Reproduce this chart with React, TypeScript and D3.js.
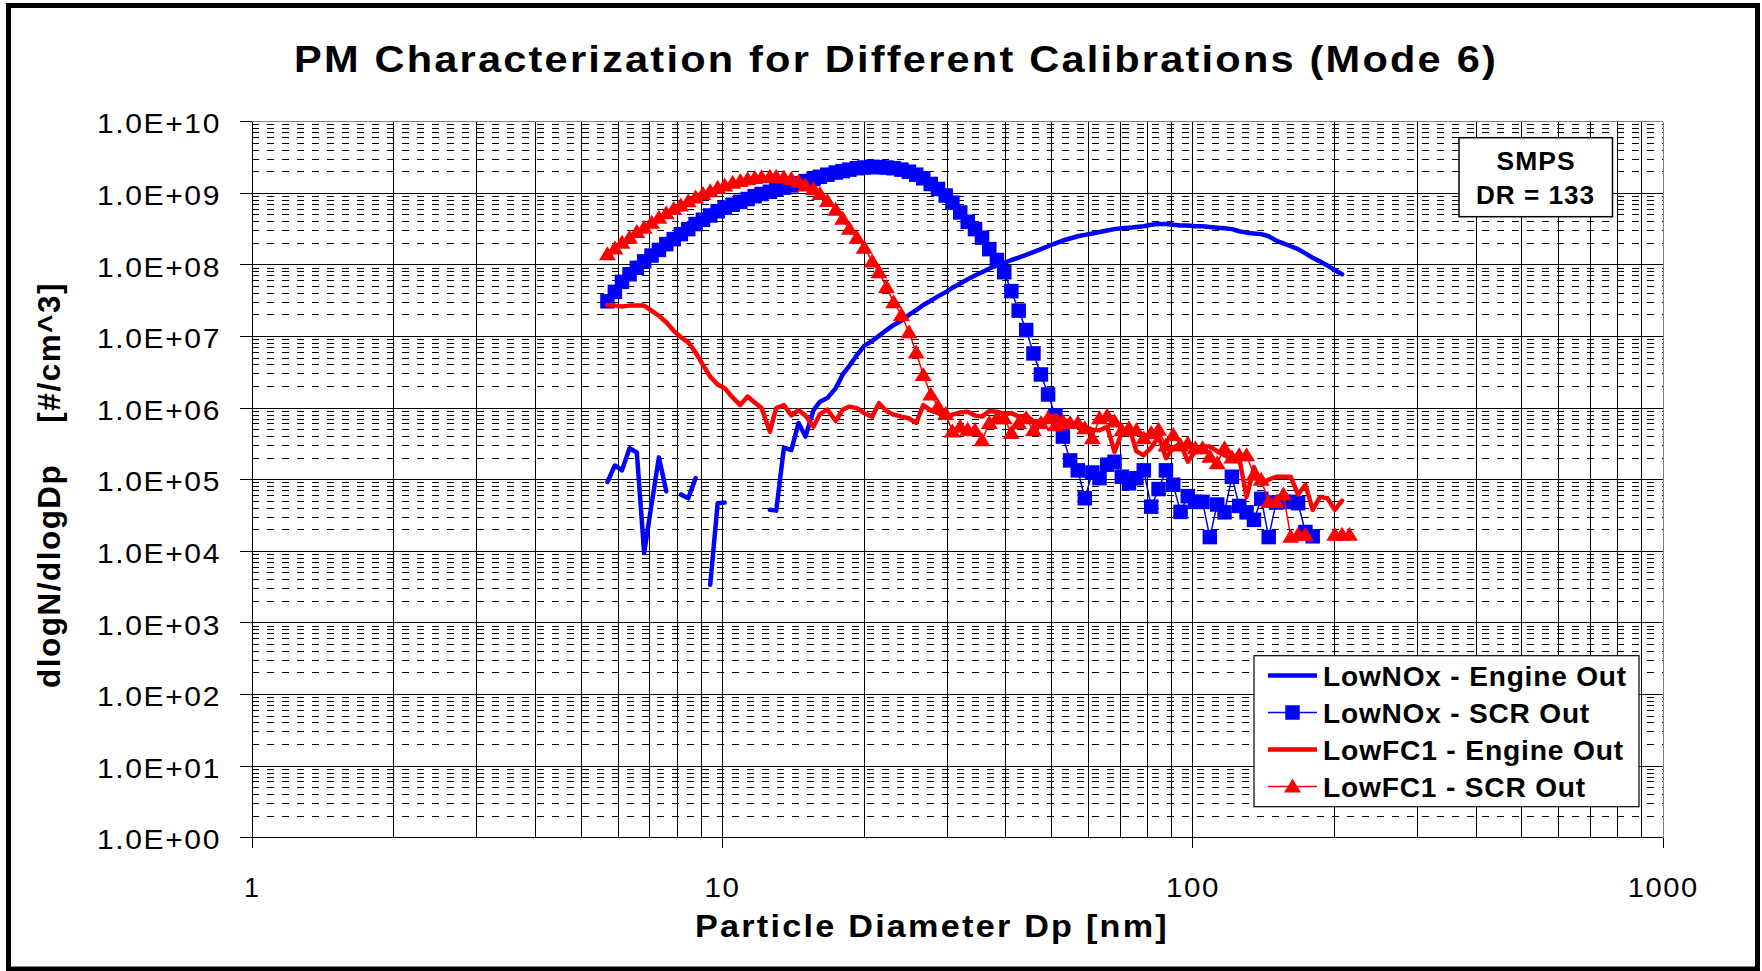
import React from 'react';
import * as d3 from 'd3';

// ---------- DATA ----------
const diameters = [
  5.69, 5.90, 6.11, 6.34, 6.57, 6.81, 7.06, 7.32, 7.59, 7.87,
  8.15, 8.45, 8.76, 9.08, 9.41, 9.76, 10.1, 10.5, 10.9, 11.3,
  11.7, 12.1, 12.6, 13.0, 13.5, 14.0, 14.5, 15.0, 15.6, 16.1,
  16.7, 17.4, 18.0, 18.6, 19.3, 20.0, 20.8, 21.5, 22.3, 23.1,
  24.0, 24.9, 25.8, 26.7, 27.7, 28.7, 29.8, 30.8, 32.0, 33.2,
  34.4, 35.6, 36.9, 38.3, 39.7, 41.1, 42.6, 44.2, 45.8, 47.5,
  49.2, 51.0, 52.9, 54.8, 56.9, 58.9, 61.1, 63.3, 65.7, 68.1,
  70.6, 73.1, 75.8, 78.6, 81.5, 84.5, 87.6, 90.8, 94.1, 97.5,
  101.1, 104.8, 108.6, 112.6, 116.7, 121.0, 125.4, 130.0, 134.8, 139.7,
  144.9, 150.2, 155.7, 161.4, 167.3, 173.4, 179.7, 186.3, 193.1, 200.2,
  207.5, 215.1,
];

const lowNOxEngineOut: (number | null)[] = [
  9.3e4, 1.58e5, 1.35e5, 2.75e5, 2.4e5, 9.5e3, 4.5e4, 2.05e5, 6.9e4, null,
  6.2e4, 5.5e4, 1.05e5, null, 3.4e3, 4.7e4, 4.8e4, null, null, null,
  null, null, 3.8e4, 3.7e4, 2.8e5, 2.6e5, 6.2e5, 4.0e5, 9.3e5, 1.23e6,
  1.38e6, 1.9e6, 2.95e6, 3.9e6, 5.5e6, 7.4e6, 8.7e6, 1.02e7, 1.23e7, 1.45e7,
  1.66e7, 2.0e7, 2.34e7, 2.75e7, 3.16e7, 3.63e7, 4.17e7, 4.79e7, 5.5e7, 6.3e7,
  7.1e7, 7.9e7, 8.9e7, 9.8e7, 1.07e8, 1.17e8, 1.26e8, 1.38e8, 1.51e8, 1.66e8,
  1.82e8, 2.0e8, 2.19e8, 2.34e8, 2.51e8, 2.63e8, 2.75e8, 2.88e8, 3.02e8, 3.16e8,
  3.24e8, 3.31e8, 3.39e8, 3.47e8, 3.63e8, 3.72e8, 3.72e8, 3.63e8, 3.55e8, 3.55e8,
  3.47e8, 3.47e8, 3.39e8, 3.31e8, 3.24e8, 3.16e8, 2.95e8, 2.82e8, 2.75e8, 2.69e8,
  2.51e8, 2.19e8, 2.0e8, 1.82e8, 1.66e8, 1.45e8, 1.26e8, 1.12e8, 9.8e7, 8.5e7,
  7.4e7,
];

const lowNOxSCROut: (number | null)[] = [
  3.1e7, 4.2e7, 5.8e7, 7.4e7, 9.1e7, 1.12e8, 1.35e8, 1.62e8, 1.95e8, 2.29e8,
  2.69e8, 3.16e8, 3.72e8, 4.27e8, 4.9e8, 5.62e8, 6.31e8, 6.92e8, 7.59e8, 8.32e8,
  9.12e8, 9.77e8, 1.05e9, 1.12e9, 1.2e9, 1.29e9, 1.38e9, 1.48e9, 1.58e9, 1.7e9,
  1.82e9, 1.95e9, 2.04e9, 2.14e9, 2.24e9, 2.29e9, 2.34e9, 2.32e9, 2.29e9, 2.24e9,
  2.14e9, 2.0e9, 1.82e9, 1.62e9, 1.35e9, 1.15e9, 9.3e8, 7.4e8, 5.4e8, 4.0e8,
  3.16e8, 2.4e8, 1.66e8, 1.17e8, 7.9e7, 4.3e7, 2.3e7, 1.23e7, 5.8e6, 2.95e6,
  1.55e6, 7.9e5, 4.0e5, 1.86e5, 1.35e5, 5.5e4, 1.26e5, 1.05e5, 1.62e5, 1.78e5,
  1.1e5, 8.9e4, 1.05e5, 1.35e5, 4.2e4, 7.4e4, 1.35e5, 8.5e4, 3.55e4, 5.9e4,
  4.9e4, 4.9e4, 1.58e4, 4.5e4, 3.5e4, 1.1e5, 4.3e4, 3.5e4, 2.75e4, 5.4e4,
  1.58e4, 4.8e4, 4.9e4, 4.9e4, 4.7e4, 1.86e4, 1.62e4,
];

const lowFC1EngineOut: (number | null)[] = [
  2.75e7, 2.7e7, 2.63e7, 2.7e7, 2.7e7, 2.7e7, 2.3e7, 1.95e7, 1.58e7, 1.2e7,
  9.8e6, 8.3e6, 6.0e6, 4.0e6, 2.75e6, 2.14e6, 1.9e6, 1.41e6, 1.1e6, 1.45e6,
  1.2e6, 1.0e6, 4.7e5, 1.0e6, 1.1e6, 7.9e5, 9.3e5, 7.9e5, 5.5e5, 8.3e5,
  9.5e5, 6.6e5, 9.5e5, 1.05e6, 1.0e6, 8.5e5, 7.6e5, 1.17e6, 9.1e5, 8.1e5,
  7.6e5, 7.2e5, 6.2e5, 1.1e6, 9.3e5, 8.5e5, 7.6e5, 8.1e5, 8.7e5, 8.9e5,
  7.9e5, 7.6e5, 9.1e5, 8.9e5, 8.3e5, 8.5e5, 7.6e5, 7.9e5, 6.6e5, 6.5e5,
  7.1e5, 7.9e5, 6.3e5, 6.2e5, 5.75e5, 5.5e5, 5.0e5, 4.9e5, 5.5e5, 2.45e5,
  4.5e5, 5.5e5, 2.5e5, 2.2e5, 2.8e5, 4.0e5, 2.0e5, 2.8e5, 3.2e5, 1.78e5,
  2.5e5, 2.9e5, 2.9e5, 2.5e5, 2.2e5, 1.9e5, 2.0e5, 5.75e4, 1.5e5, 8.9e4,
  1.0e5, 1.1e5, 1.1e5, 1.1e5, 6.2e4, 8.5e4, 3.8e4, 5.75e4, 5.5e4, 3.8e4,
  5.1e4,
];

const lowFC1SCROut: (number | null)[] = [
  1.41e8, 1.7e8, 2.04e8, 2.4e8, 2.88e8, 3.31e8, 3.89e8, 4.57e8, 5.25e8, 6.03e8,
  6.76e8, 7.76e8, 8.71e8, 9.77e8, 1.07e9, 1.2e9, 1.29e9, 1.4e9, 1.48e9, 1.57e9,
  1.64e9, 1.68e9, 1.7e9, 1.7e9, 1.66e9, 1.58e9, 1.45e9, 1.29e9, 1.15e9, 9.8e8,
  7.8e8, 5.9e8, 4.4e8, 3.2e8, 2.4e8, 1.74e8, 1.12e8, 7.9e7, 4.9e7, 3.0e7,
  2.0e7, 1.15e7, 6.0e6, 2.9e6, 1.55e6, 1.05e6, 8.3e5, 4.7e5, 5.5e5, 5.0e5,
  4.9e5, 3.55e5, 6.2e5, 7.2e5, 7.2e5, 4.5e5, 6.2e5, 7.2e5, 4.9e5, 6.2e5,
  7.2e5, 5.75e5, 6.5e5, 6.2e5, 6.2e5, 5.25e5, 3.8e5, 7.2e5, 7.8e5, 6.5e5,
  4.9e5, 5.25e5, 4.9e5, 3.8e5, 4.5e5, 5.0e5, 3.0e5, 4.2e5, 3.0e5, 3.2e5,
  2.75e5, 2.75e5, 2.1e5, 1.7e5, 2.75e5, 2.05e5, 2.2e5, 2.2e5, 1.17e5, 1.0e5,
  4.9e4, 4.9e4, 6.2e4, 1.6e4, 1.7e4, 1.7e4, null, null, null, 1.7e4,
  1.7e4, 1.7e4,
];

const yTickValues = [1, 1e1, 1e2, 1e3, 1e4, 1e5, 1e6, 1e7, 1e8, 1e9, 1e10];
const yTickLabels = ['1.0E+00', '1.0E+01', '1.0E+02', '1.0E+03', '1.0E+04', '1.0E+05', '1.0E+06', '1.0E+07', '1.0E+08', '1.0E+09', '1.0E+10'];
const xTickValues = [1, 10, 100, 1000];
const xTickLabels = ['1', '10', '100', '1000'];
const xTickLabelWidths = [16, 36, 54, 71];

const seriesNames = ['LowNOx - Engine Out', 'LowNOx - SCR Out', 'LowFC1 - Engine Out', 'LowFC1 - SCR Out'];
const seriesColors = ['#0000FF', '#0000FF', '#FF0000', '#FF0000'];
const legendTextWidths = [304, 267, 301, 263];

const titleText = 'PM Characterization for Different Calibrations (Mode 6)';
const xAxisTitle = 'Particle Diameter Dp [nm]';
const yAxisTitle = 'dlogN/dlogDp    [#/cm^3]';
const noteLines = ['SMPS', 'DR = 133'];

// ---------- LAYOUT ----------
const W = 1762;
const H = 971;
const PL = 252.3, PR = 1663.3, PT = 121.7, PB = 837.7;
const FONT = '"Liberation Sans", Arial, Helvetica, sans-serif';

type Pt = { d: number; v: number | null };

function toPoints(vals: (number | null)[]): Pt[] {
  return vals.map((v, i) => ({ d: diameters[i], v }));
}

export default function App() {
  const x = d3.scaleLog().domain([1, 1000]).range([PL, PR]);
  const y = d3.scaleLog().domain([1, 1e10]).range([PB, PT]);

  const line = d3
    .line<Pt>()
    .defined((p) => p.v != null && (p.v as number) > 0 && p.d != null)
    .x((p) => x(p.d))
    .y((p) => y(p.v as number));

  const minorY: number[] = [];
  for (let e = 0; e < 10; e++) for (let m = 2; m <= 9; m++) minorY.push(m * Math.pow(10, e));
  const minorX: number[] = [];
  for (let e = 0; e < 3; e++) for (let m = 2; m <= 9; m++) minorX.push(m * Math.pow(10, e));

  const s1 = toPoints(lowNOxEngineOut);
  const s2 = toPoints(lowNOxSCROut);
  const s3 = toPoints(lowFC1EngineOut);
  const s4 = toPoints(lowFC1SCROut);

  const sq = 14.5;
  const tri = (cx: number, cy: number) =>
    `M${cx},${cy - 8}L${cx + 8.5},${cy + 6}L${cx - 8.5},${cy + 6}Z`;

  const legX = 1254, legY = 655.7, legW = 385, legH = 151;
  const legBaselines = [685.5, 722.5, 759.5, 796.5];
  const LA = 'spacingAndGlyphs';

  return (
    <svg
      width={W}
      height={H}
      viewBox={`0 0 ${W} ${H}`}
      style={{ position: 'absolute', left: 0, top: 0, background: '#fff' }}
      fontFamily={FONT}
    >
      <rect x={0} y={0} width={W} height={H} fill="#fff" />
      {/* outer border */}
      <rect x={8.5} y={5.5} width={1749} height={963.5} fill="none" stroke="#000" strokeWidth={5} />

      {/* title */}
      <text x={294} y={72} fontSize={37.5} fontWeight="bold" letterSpacing={2} textLength={1204} lengthAdjust={LA}>
        {titleText}
      </text>

      {/* grid */}
      <g shapeRendering="crispEdges">
        {minorY.map((v, i) => (
          <line key={'my' + i} x1={PL} x2={PR} y1={y(v)} y2={y(v)} stroke="#000" strokeWidth={1} strokeDasharray="7,8" />
        ))}
        {minorX.map((v, i) => (
          <line key={'mx' + i} x1={x(v)} x2={x(v)} y1={PT} y2={PB} stroke="#000" strokeWidth={1} />
        ))}
        {yTickValues.map((v, i) => (
          <line key={'gy' + i} x1={PL - 12} x2={PR} y1={y(v)} y2={y(v)} stroke="#000" strokeWidth={1} />
        ))}
        {xTickValues.map((v, i) => (
          <line key={'gx' + i} x1={x(v)} x2={x(v)} y1={PT} y2={PB + 10} stroke="#000" strokeWidth={1} />
        ))}
        <line x1={PL} x2={PR} y1={PT} y2={PT} stroke="#808080" strokeWidth={1.5} />
        <line x1={PR} x2={PR} y1={PT} y2={PB} stroke="#808080" strokeWidth={1.5} />
        <line x1={PL} x2={PL} y1={PT} y2={PB + 10} stroke="#000" strokeWidth={1.5} />
        <line x1={PL - 12} x2={PR} y1={PB} y2={PB} stroke="#000" strokeWidth={1.5} />
      </g>

      {/* y tick labels */}
      {yTickValues.map((v, i) => (
        <text key={'yl' + i} x={97} y={y(v) + 11.6} fontSize={28} letterSpacing={1.5} textLength={124} lengthAdjust={LA}>
          {yTickLabels[i]}
        </text>
      ))}
      {/* x tick labels */}
      {xTickValues.map((v, i) => (
        <text
          key={'xl' + i}
          x={x(v) - xTickLabelWidths[i] / 2}
          y={897}
          fontSize={28}
          letterSpacing={1.5}
          textLength={xTickLabelWidths[i]}
          lengthAdjust={LA}
        >
          {xTickLabels[i]}
        </text>
      ))}

      {/* axis titles */}
      <text x={695} y={937} fontSize={30.5} fontWeight="bold" letterSpacing={2} textLength={474} lengthAdjust={LA}>
        {xAxisTitle}
      </text>
      <text
        transform={`translate(60, ${485 + 203}) rotate(-90)`}
        x={0}
        y={0}
        fontSize={30.5}
        fontWeight="bold"
        letterSpacing={1.5}
        textLength={406}
        lengthAdjust={LA}
        xmlSpace="preserve"
        style={{ whiteSpace: 'pre' }}
      >
        {yAxisTitle}
      </text>

      {/* series */}
      <path d={line(s1) || ''} fill="none" stroke={seriesColors[0]} strokeWidth={4.5} strokeLinejoin="round" strokeLinecap="round" />
      <path d={line(s2) || ''} fill="none" stroke={seriesColors[1]} strokeWidth={1.5} />
      {s2.filter((p) => p.v != null).map((p, i) => (
        <rect key={'sq' + i} x={x(p.d) - sq / 2} y={y(p.v as number) - sq / 2} width={sq} height={sq} fill={seriesColors[1]} />
      ))}
      <path d={line(s3) || ''} fill="none" stroke={seriesColors[2]} strokeWidth={4.5} strokeLinejoin="round" strokeLinecap="round" />
      <path d={line(s4) || ''} fill="none" stroke={seriesColors[3]} strokeWidth={1.5} />
      {s4.filter((p) => p.v != null).map((p, i) => (
        <path key={'tr' + i} d={tri(x(p.d), y(p.v as number))} fill={seriesColors[3]} />
      ))}

      {/* SMPS note */}
      <rect x={1459} y={137.7} width={153.5} height={79} fill="#fff" stroke="#000" strokeWidth={1.5} />
      <text x={1496.6} y={170} fontSize={26} fontWeight="bold" letterSpacing={1} textLength={79} lengthAdjust={LA}>
        {noteLines[0]}
      </text>
      <text x={1476} y={204} fontSize={26} fontWeight="bold" letterSpacing={1} textLength={119} lengthAdjust={LA}>
        {noteLines[1]}
      </text>

      {/* legend */}
      <rect x={legX} y={legY} width={legW} height={legH} fill="#fff" stroke="#000" strokeWidth={1.2} />
      {seriesNames.map((name, i) => {
        const cy = legBaselines[i] - 10;
        const isMarker = i === 1 || i === 3;
        return (
          <g key={'lg' + i}>
            <line x1={1268} x2={1317} y1={cy} y2={cy} stroke={seriesColors[i]} strokeWidth={isMarker ? 1.5 : 4.5} />
            {i === 1 && <rect x={1292.5 - sq / 2} y={cy - sq / 2} width={sq} height={sq} fill={seriesColors[i]} />}
            {i === 3 && <path d={tri(1292.5, cy)} fill={seriesColors[i]} />}
            <text x={1323} y={legBaselines[i]} fontSize={28} fontWeight="bold" letterSpacing={0.8} textLength={legendTextWidths[i]} lengthAdjust={LA}>
              {name}
            </text>
          </g>
        );
      })}
    </svg>
  );
}
